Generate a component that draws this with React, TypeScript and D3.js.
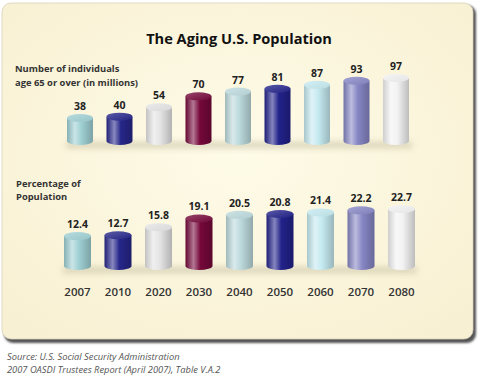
import React from "react";
import * as d3 from "d3";

const years = ["2007", "2010", "2020", "2030", "2040", "2050", "2060", "2070", "2080"];
const individuals = [38, 40, 54, 70, 77, 81, 87, 93, 97];
const percentages = [12.4, 12.7, 15.8, 19.1, 20.5, 20.8, 21.4, 22.2, 22.7];
const barColors = ["#9fd0d4", "#26268a", "#e4e4e4", "#75083a", "#bcd9dc", "#22228a", "#c4eaf0", "#8686c4", "#f2f2f2"];
const title = "The Aging U.S. Population";
const topLabel = ["Number of individuals", "age 65 or over (in millions)"];
const bottomLabel = ["Percentage of", "Population"];
const sourceLines = ["Source: U.S. Social Security Administration", "2007 OASDI Trustees Report (April 2007), Table V.A.2"];

const W = 480;
const H = 378;
const FONT = "'Open Sans', 'Noto Sans', sans-serif";

function Cylinder({ cx, w, yTop, yBottom, idx, prefix }: any) {
  const rx = w / 2;
  const ry = 4;
  return (
    <g>
      <path
        d={`M${cx - rx},${yTop} L${cx - rx},${yBottom} A${rx},${ry} 0 0 0 ${cx + rx},${yBottom} L${cx + rx},${yTop} Z`}
        fill={`url(#${prefix}body${idx})`}
      />
      <ellipse cx={cx} cy={yTop} rx={rx} ry={ry} fill={`url(#${prefix}cap${idx})`} />
    </g>
  );
}

export default function App() {
  const xTop = d3.scaleBand<string>().domain(years).range([67, 409]).paddingInner(0.342).paddingOuter(0);
  const xBot = d3.scaleBand<string>().domain(years).range([64, 415]).paddingInner(0.333).paddingOuter(0);
  const yTop = d3.scaleLinear().domain([4, 100]).range([141, 76]);
  const yBot = d3.scaleLinear().domain([1, 25]).range([266, 203]);

  const defs = barColors.map((c, i) => {
    const base = d3.color(c)!;
    const dark = d3.rgb(c).darker(0.7).formatHex();
    const dark2 = d3.rgb(c).darker(0.45).formatHex();
    const light = d3.interpolateRgb(c, "#ffffff")(0.45);
    const capL = d3.interpolateRgb(c, "#ffffff")(0.25);
    const capD = d3.rgb(c).darker(0.15).formatHex();
    return (
      <React.Fragment key={i}>
        <linearGradient id={`bbody${i}`} x1="0" x2="1" y1="0" y2="0">
          <stop offset="0" stopColor={dark2} />
          <stop offset="0.3" stopColor={light} />
          <stop offset="0.55" stopColor={base.formatHex()} />
          <stop offset="1" stopColor={dark} />
        </linearGradient>
        <linearGradient id={`bcap${i}`} x1="0" x2="1" y1="0" y2="1">
          <stop offset="0" stopColor={capL} />
          <stop offset="1" stopColor={capD} />
        </linearGradient>
      </React.Fragment>
    );
  });

  return (
    <svg width={W} height={H} style={{ position: "absolute", left: 0, top: 0 }}>
      <defs>
        <radialGradient id="panelBg" cx="0.5" cy="0.45" r="0.7">
          <stop offset="0" stopColor="#fefbe8" />
          <stop offset="1" stopColor="#f8f0d2" />
        </radialGradient>
        <filter id="blur" x="-20%" y="-200%" width="140%" height="500%">
          <feGaussianBlur stdDeviation="3" />
        </filter>
        <filter id="pshadow" x="-5%" y="-5%" width="110%" height="110%">
          <feGaussianBlur stdDeviation="1.2" />
        </filter>
        {defs}
      </defs>
      <rect x={0} y={0} width={W} height={H} fill="#ffffff" />
      <rect x={4} y={5} width={472} height={338} rx={9} fill="#555" filter="url(#pshadow)" />
      <rect x={2} y={3} width={471} height={336} rx={9} fill="url(#panelBg)" stroke="#d8d2bc" strokeWidth={0.8} />

      <text x={239} y={44} textAnchor="middle" fontFamily={FONT} fontWeight={700} fontSize={14.6} fill="#111">
        {title}
      </text>

      {topLabel.map((t, i) => (
        <text key={t} x={15} y={72 + i * 14} fontFamily={FONT} fontWeight={700} fontSize={9.4} fill="#333">
          {t}
        </text>
      ))}
      {bottomLabel.map((t, i) => (
        <text key={t} x={16} y={187 + i * 12.5} fontFamily={FONT} fontWeight={700} fontSize={9.4} fill="#333">
          {t}
        </text>
      ))}

      {/* floor shadows */}
      <rect x={66} y={142} width={346} height={6} fill="#c9c2a6" opacity={0.7} filter="url(#blur)" />
      <rect x={63} y={267} width={354} height={6} fill="#c9c2a6" opacity={0.7} filter="url(#blur)" />

      {years.map((yr, i) => {
        const cx = xTop(yr)! + xTop.bandwidth() / 2;
        const v = individuals[i];
        return (
          <g key={"t" + yr}>
            <Cylinder cx={cx} w={xTop.bandwidth()} yTop={yTop(v)} yBottom={141} idx={i} prefix="b" />
            <text x={cx} y={yTop(v) - 8} textAnchor="middle" fontFamily={FONT} fontWeight={700} fontSize={10.5} fill="#222">
              {v}
            </text>
          </g>
        );
      })}

      {years.map((yr, i) => {
        const cx = xBot(yr)! + xBot.bandwidth() / 2;
        const v = percentages[i];
        return (
          <g key={"b" + yr}>
            <Cylinder cx={cx} w={xBot.bandwidth()} yTop={yBot(v)} yBottom={266} idx={i} prefix="b" />
            <text x={cx} y={yBot(v) - 8} textAnchor="middle" fontFamily={FONT} fontWeight={700} fontSize={10.5} fill="#222">
              {v.toFixed(1)}
            </text>
            <text x={cx} y={296} textAnchor="middle" fontFamily={FONT} fontWeight={600} fontSize={11.5} fill="#333">
              {yr}
            </text>
          </g>
        );
      })}

      {sourceLines.map((t, i) => (
        <text key={t} x={7} y={360 + i * 13} fontFamily={FONT} fontStyle="italic" fontSize={9.3} fill="#555">
          {t}
        </text>
      ))}
    </svg>
  );
}
